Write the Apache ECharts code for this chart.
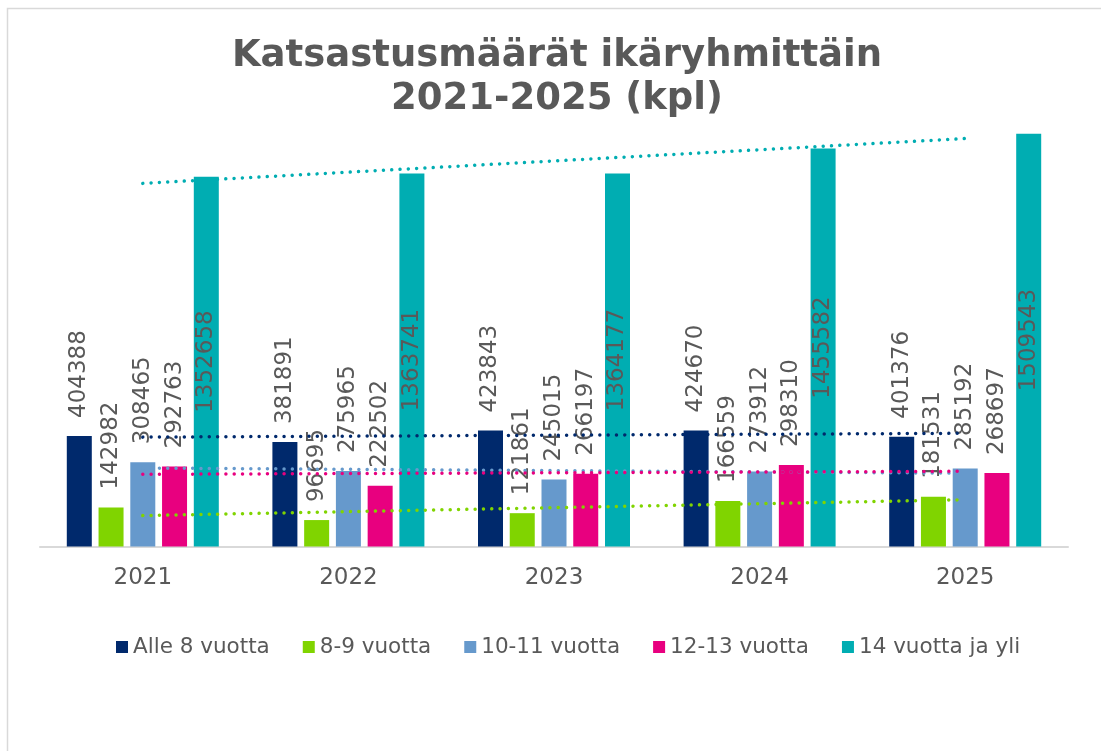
<!DOCTYPE html>
<html>
<head>
<meta charset="utf-8">
<script src="https://cdn.jsdelivr.net/npm/echarts@6/dist/echarts.min.js"></script>
<style>
  html, body { margin: 0; padding: 0; background: #fff; }
  #chart { width: 1101px; height: 751px; }
</style>
</head>
<body>
<div id="chart"></div>
<script>
const years = ['2021', '2022', '2023', '2024', '2025']
const seriesNames = ['Alle 8 vuotta', '8-9 vuotta', '10-11 vuotta', '12-13 vuotta', '14 vuotta ja yli']
const under8 = [404388, 381891, 423843, 424670, 401376]
const age8to9 = [142982, 96695, 121861, 166559, 181531]
const age10to11 = [308465, 275965, 245015, 273912, 285192]
const age12to13 = [292763, 222502, 266197, 298310, 268697]
const age14plus = [1352658, 1363741, 1364177, 1455582, 1509543]
// trend line ends (2021 and 2025)
const trendStart = [400000, 113000, 287000, 264000, 1328000]
const trendEnd = [414000, 171000, 268000, 275000, 1492000]

const colors = ['#00296c', '#80d400', '#6699cc', '#e8007f', '#00adb2']
const values = [under8, age8to9, age10to11, age12to13, age14plus]
const textColor = '#595959'
const font = '"DejaVu Sans", Verdana, sans-serif'

const chart = echarts.init(document.getElementById('chart'))

const bars = values.map((data, i) => ({
  name: seriesNames[i],
  type: 'bar',
  data: data,
  barWidth: 25,
  barGap: '27%',
  itemStyle: { color: colors[i] },
  label: {
    show: true,
    rotate: 90,
    position: i === 4 ? 'inside' : 'top',
    align: i === 4 ? 'center' : 'left',
    verticalAlign: 'middle',
    distance: 18,
    color: textColor,
    fontFamily: font,
    fontSize: 23
  },
  z: 2
}))

const trends = values.map((data, i) => ({
  name: 'trend-' + i,
  type: 'line',
  data: [trendStart[i], '-', '-', '-', trendEnd[i]],
  connectNulls: true,
  symbol: 'none',
  silent: true,
  lineStyle: { color: colors[i], width: 3.5, type: [0.01, 8.3], cap: 'round' },
  z: 3
}))

const option = {
  backgroundColor: '#fff',
  animation: false,
  title: {
    text: 'Katsastusmäärät ikäryhmittäin\n2021-2025 (kpl)',
    left: 552,
    top: 30,
    textAlign: 'center',
    textStyle: {
      color: textColor,
      fontFamily: font,
      fontWeight: 'bold',
      fontSize: 37,
      lineHeight: 43
    }
  },
  legend: {
    data: seriesNames,
    left: 111,
    top: 631,
    icon: 'rect',
    itemWidth: 12,
    itemHeight: 12,
    itemGap: 33,
    textStyle: { color: textColor, fontFamily: font, fontSize: 21.5 }
  },
  grid: { left: 40, right: 33, top: 109, bottom: 204.5 },
  xAxis: {
    type: 'category',
    data: years,
    axisLine: { lineStyle: { color: '#d9d9d9', width: 2 } },
    axisTick: { show: false },
    axisLabel: { color: textColor, fontFamily: font, fontSize: 23, margin: 20 }
  },
  yAxis: {
    type: 'value',
    min: 0,
    max: 1600000,
    show: false,
    splitLine: { show: false }
  },
  graphic: [{
    type: 'rect',
    shape: { x: 7.5, y: 8.5, width: 1200, height: 800 },
    style: { fill: 'none', stroke: '#d9d9d9', lineWidth: 1.5 },
    silent: true
  }],
  series: bars.concat(trends)
}

chart.setOption(option)
</script>
</body>
</html>
